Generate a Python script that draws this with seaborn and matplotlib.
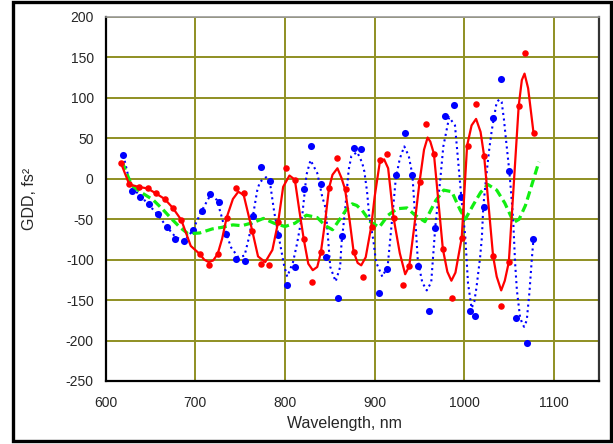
import matplotlib
matplotlib.use("Agg")
import matplotlib.pyplot as plt
from matplotlib.patches import Rectangle
from matplotlib.ticker import MultipleLocator
import pandas as pd
import seaborn as sns

# Measured GDD (red dots) and its smooth fit (red line)
red_dot_wl = [617, 626.5, 637, 647.5, 656, 666, 675, 684.5, 705.5, 715, 725.5, 735,
              745.5, 754.5, 763.5, 773, 782, 792.5, 801.5, 811, 821, 830, 840, 849,
              858.5, 867.5, 876.5, 886.5, 896.5, 905.5, 914, 921.5, 932, 938.5, 950,
              957.5, 966, 976.5, 986, 997.5, 1003.5, 1013, 1022, 1032, 1041, 1049.5,
              1060.5, 1067.5, 1077.5]
red_dot_gdd = [20, -7, -10, -12, -18, -25, -36, -51, -93, -107, -93, -48,
               -12, -18, -64, -105, -106, -54, 13, -1, -75, -127, -91, -12,
               26, -13, -90, -122, -60, 23, 31, -48, -131, -108, -4,
               68, 31, -87, -148, -73, 41, 93, 28, -96, -157, -103,
               90, 156, 57]

red_fit_wl = [617, 626.5, 637, 647, 656, 666, 675, 684.5, 695, 705, 710, 715, 720, 725,
              730, 735, 742, 748, 754, 763.5, 770, 778, 786, 792.5, 798, 805, 811, 816,
              821, 826, 831, 836, 840, 845, 849, 853, 858.5, 863, 867, 872, 876.5, 881,
              885, 890, 896, 900, 905.5, 910.5, 915, 921, 928, 934, 938.5, 944, 950,
              955, 959, 962, 966, 971, 976, 981, 985.5, 990, 997, 1003, 1008, 1013,
              1018, 1022, 1027, 1032, 1036, 1041, 1045, 1049.5, 1055, 1060.5, 1064,
              1067, 1071, 1077]
red_fit_gdd = [20, -7, -10, -12, -18, -25, -36, -51, -83, -93, -100, -103, -101, -93,
               -74, -48, -25, -16, -20, -64, -96, -103, -88, -53, -10, 4, -1, -39,
               -75, -105, -113, -109, -91, -51, -12, 5, 13, 1, -13, -51, -90, -104,
               -107, -97, -60, -22, 19, 24, 13, -48, -92, -118, -108, -60, -4,
               36, 51, 46, 31, -28, -87, -115, -126, -116, -73, 41, 66, 74,
               58, 28, -34, -96, -121, -138, -126, -103, -7, 90, 122,
               130, 112, 57]

# Second measurement (blue dots) and its model (blue dotted line)
blue_dot_wl = [620, 630, 639, 648.5, 658.5, 668, 678, 688, 697.5, 707.5, 717, 726,
               734, 745.5, 755, 764, 773.7, 783, 792.6, 802, 811.5, 821.6, 829, 840,
               845.5, 859.5, 864, 877.5, 885, 905, 914, 923.5, 933.5, 942, 948,
               960.6, 967, 978, 988.5, 996.6, 1006, 1012.3, 1022, 1031.7, 1040.5,
               1050, 1058, 1070, 1077]
blue_dot_gdd = [29, -15, -22, -31, -44, -60, -75, -77.5, -63, -40, -18.5, -28.5,
                -68.5, -99, -102, -46, 14.5, -3, -69, -131, -109, -13, 40, -7,
                -97, -147, -71, 38, 37, -141, -112, 5, 57, 5, -108,
                -163.5, -61, 78, 91, -22, -164, -169.5, -35, 75, 123,
                10, -171.5, -202.5, -74]

blue_fit_wl = [620, 625, 630, 639, 648, 658, 668, 678, 688, 697, 707, 717, 724, 729,
               734, 740, 748, 755, 760, 764, 769, 772, 779, 784, 788, 794.5, 799,
               802.5, 809, 813.5, 819.5, 824, 828.5, 836, 841.5, 845, 847, 850.5,
               856.5, 861.5, 863, 867, 871, 874, 880.5, 886, 888.5, 891.5, 894,
               898.5, 901.5, 908.5, 914.5, 919, 923.5, 928, 933, 938, 942, 945,
               948, 953, 958, 963, 967.5, 973, 976.5, 983, 989.5, 996.5, 1001,
               1004, 1008, 1011, 1013.5, 1017.5, 1019.5, 1021, 1023, 1025.5, 1027.5,
               1030.5, 1036, 1039, 1041.5, 1044, 1046, 1050, 1051.5, 1053, 1054.5,
               1056.5, 1058.5, 1062, 1064.5, 1066.5, 1069.5, 1070.5, 1072.5, 1075,
               1077]
blue_fit_gdd = [29, 5, -12, -21, -32, -44, -59, -72, -77, -64, -40, -20, -26, -45,
                -66, -85, -97, -95, -72, -48, -15, -4, 2, -10, -41, -80, -107,
                -121, -103, -80, -43, 5, 23, 7, -22, -35, -59, -109,
                -127, -109, -80, -39, 11, 28, 33, 20, 9, -16, -47,
                -76, -103, -121, -108, -55, 0, 25, 40, 28, 5, -45,
                -100, -128, -138, -128, -60, -2, 40, 76, 66, -22, -72,
                -129, -160, -152, -134, -97, -72, -35, -12, 15, 35,
                60, 95, 98, 95, 74, 52, 10, -10, -30, -55,
                -104, -138, -171, -179, -183, -175, -163, -140, -101,
                -74]

# Mean dispersion curve (green dashed line)
green_wl = [618.5, 629, 640, 653, 664, 674, 683, 692, 705, 719, 730, 742, 752, 765,
            776, 788, 800, 811, 824, 836, 845, 853, 863, 869, 875, 880, 886, 895,
            905, 915, 925, 936, 945, 956, 968, 977, 986, 995, 1001, 1010, 1018,
            1026, 1036, 1045, 1055, 1061, 1068, 1075, 1083]
green_gdd = [21, -8, -17, -26, -38, -50, -60, -68, -67, -62, -60, -57, -58, -54,
             -49, -55, -59, -55, -45, -48, -58, -63, -47, -37, -31, -33, -39, -53,
             -60, -45, -37, -36, -45, -53, -27, -14, -16, -38, -50, -32, -17,
             -7, -14, -30, -54, -50, -33, -8, 21]

x_ticks = [600, 700, 800, 900, 1000, 1100]
y_ticks = [-250, -200, -150, -100, -50, 0, 50, 100, 150, 200]

red_dots = pd.DataFrame({"wl": red_dot_wl, "gdd": red_dot_gdd})
red_fit = pd.DataFrame({"wl": red_fit_wl, "gdd": red_fit_gdd})
blue_dots = pd.DataFrame({"wl": blue_dot_wl, "gdd": blue_dot_gdd})
blue_fit = pd.DataFrame({"wl": blue_fit_wl, "gdd": blue_fit_gdd})
green = pd.DataFrame({"wl": green_wl, "gdd": green_gdd})

sns.set_style("white")
plt.rcParams["font.family"] = ["Liberation Sans", "DejaVu Sans"]
plt.rcParams["axes.unicode_minus"] = False

W, H = 613, 444
fig = plt.figure(figsize=(W / 100, H / 100), dpi=100)
ax = fig.add_axes([105.5 / W, 1 - 381 / H, (599 - 105.5) / W, (381 - 17) / H])

olive = "#8f8f22"

sns.lineplot(data=blue_fit, x="wl", y="gdd", ax=ax, color="#0000ff", lw=1.5,
             linestyle=(0, (1, 1.7)), sort=False, estimator=None, zorder=3)
sns.scatterplot(data=blue_dots, x="wl", y="gdd", ax=ax, color="#0000ff", s=26,
                linewidth=0, zorder=4)
sns.lineplot(data=green, x="wl", y="gdd", ax=ax, color="#11ee11", lw=2.3,
             linestyle=(0, (2.7, 1.4)), sort=False, estimator=None, zorder=5)
sns.lineplot(data=red_fit, x="wl", y="gdd", ax=ax, color="#ff0000", lw=1.6,
             sort=False, estimator=None, zorder=6)
sns.scatterplot(data=red_dots, x="wl", y="gdd", ax=ax, color="#ff0000", s=22,
                linewidth=0, zorder=7)

ax.set_xlim(600, 1150)
ax.set_ylim(-250, 200)
ax.set_xticks(x_ticks)
ax.set_yticks(y_ticks)
ax.xaxis.set_minor_locator(MultipleLocator(50))
ax.yaxis.set_minor_locator(MultipleLocator(25))
ax.grid(True, which="major", color=olive, lw=1.4, zorder=0)
ax.set_axisbelow(True)

ax.tick_params(axis="both", which="major", direction="out", length=5.5, width=1.2,
               color="black", labelsize=10, top=False, right=False)
ax.tick_params(axis="both", which="minor", direction="out", length=3.5, width=1.2,
               color="black", top=False, right=False)
ax.tick_params(axis="y", which="major", pad=3)
ax.tick_params(axis="x", which="major", pad=5)

for side in ("left", "bottom"):
    ax.spines[side].set_color("black")
    ax.spines[side].set_linewidth(1.6)
ax.spines["top"].set_color("#999999")
ax.spines["top"].set_linewidth(1.2)
ax.spines["right"].set_color("#333333")
ax.spines["right"].set_linewidth(1.6)

ax.set_xlabel("Wavelength, nm", fontsize=11.5)
ax.xaxis.set_label_coords((344 - 105.5) / (599 - 105.5), -0.095)
ax.set_ylabel("GDD, fs²", fontsize=11.5)
ax.yaxis.set_label_coords((37 - 105.5) / (599 - 105.5), 0.5)

fig.patches.append(Rectangle((13.3 / W, 3.3 / H), (611 - 13.3) / W, (440.7 - 1.7) / H,
                             transform=fig.transFigure, fill=False,
                             edgecolor="black", lw=2.4, zorder=10))

fig.savefig("out.png", dpi=100)
